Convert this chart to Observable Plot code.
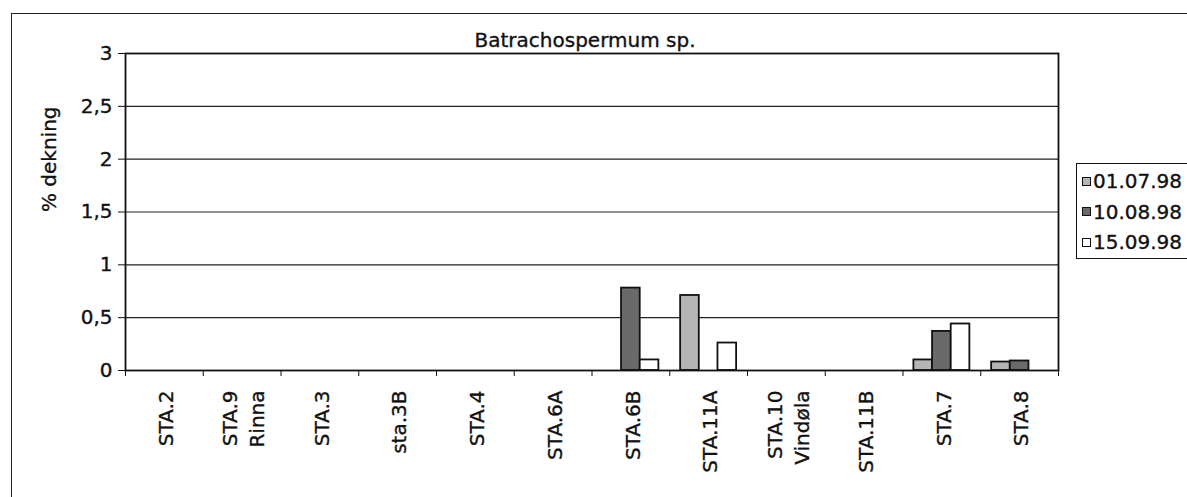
<!DOCTYPE html>
<html>
<head>
<meta charset="utf-8">
<script src="https://cdn.jsdelivr.net/npm/d3@7"></script>
<script src="https://cdn.jsdelivr.net/npm/@observablehq/plot@0.6"></script>
<style>
  html, body { margin: 0; padding: 0; background: #fff; }
  #wrap { position: relative; width: 1187px; height: 497px; overflow: hidden; font-family: "DejaVu Sans", sans-serif; }
  #outer { position: absolute; left: 11px; top: 13px; width: 1300px; height: 700px; border-left: 1.5px solid #222; border-top: 1.5px solid #222; pointer-events: none; }
  #legend { position: absolute; left: 1076px; top: 163px; width: 160px; height: 94px; border: 1.6px solid #111; background: #fff; }
  .row { position: absolute; left: 5px; height: 24px; display: flex; align-items: center; font-size: 20px; color: #111; -webkit-text-stroke: 0.35px #111; }
  .sw { width: 7px; height: 7px; border: 1.8px solid #111; margin-right: 2px; }
</style>
</head>
<body>
<div id="wrap"></div>
<script>
const stations = ["STA.2", "STA.9\nRinna", "STA.3", "sta.3B", "STA.4", "STA.6A", "STA.6B", "STA.11A", "STA.10\nVindøla", "STA.11B", "STA.7", "STA.8"];
const dates = ["01.07.98", "10.08.98", "15.09.98"];
const v0107 = [0, 0, 0, 0, 0, 0, 0, 0.71, 0, 0, 0.10, 0.08];
const v1008 = [0, 0, 0, 0, 0, 0, 0.78, 0, 0, 0, 0.37, 0.09];
const v1509 = [0, 0, 0, 0, 0, 0, 0.10, 0.26, 0, 0, 0.44, 0];
const yTicks = [0, 0.5, 1, 1.5, 2, 2.5, 3];
const title = "Batrachospermum sp.";
const yLabel = "% dekning";
const fills = ["#b5b5b5", "#6a6a6a", "#ffffff"];

const series = [v0107, v1008, v1509];
const rows = [];
stations.forEach((s, i) => series.forEach((vals, j) => {
  if (vals[i] > 0) rows.push({i, j, date: dates[j], value: vals[i]});
}));
const idx = stations.map((s, i) => i);
const bounds = stations.map((s, i) => i - 0.5).concat([stations.length - 0.5]);
const groupW = 0.72, barW = groupW / dates.length;
const ink = {fill: "#111", stroke: "#111", strokeWidth: 0.35, fontSize: 20};
const fmt = d => String(d).replace(".", ",");

const plot = Plot.plot({
  width: 1187,
  height: 497,
  marginLeft: 125,
  marginRight: 129,
  marginTop: 53,
  marginBottom: 127,
  style: {fontFamily: "DejaVu Sans, sans-serif", fontSize: "20px", color: "#111", background: "transparent"},
  x: {type: "linear", domain: [-0.5, stations.length - 0.5], label: null},
  y: {domain: [0, 3], label: null},
  color: {domain: dates, range: fills},
  marks: [
    Plot.ruleY(yTicks.filter(v => v > 0 && v < 3), {stroke: "#222", strokeWidth: 1.1}),
    Plot.rectY(rows, {
      x1: d => d.i - groupW / 2 + d.j * barW,
      x2: d => d.i - groupW / 2 + (d.j + 1) * barW,
      y1: 0, y2: "value",
      fill: "date", stroke: "#111", strokeWidth: 1.8
    }),
    Plot.frame({stroke: "#111", strokeWidth: 1.8}),
    Plot.axisY({ticks: yTicks, tickSize: 7, tickFormat: () => "", label: null, stroke: "#111"}),
    Plot.text(yTicks, {x: -0.5, y: d => d, text: fmt, textAnchor: "end", dx: -13, ...ink}),
    Plot.axisX({ticks: bounds, tickSize: 6, tickFormat: () => "", label: null, stroke: "#111"}),
    Plot.text(idx, {x: d => d, text: d => stations[d], frameAnchor: "bottom", dy: 20,
      rotate: -90, textAnchor: "end", lineAnchor: "middle", lineHeight: 1.35, ...ink}),
    Plot.text([yLabel], {frameAnchor: "left", dx: -76, rotate: -90, ...ink}),
    Plot.text([title], {frameAnchor: "top", dy: -21, dx: -7, ...ink})
  ]
});

const wrap = document.getElementById("wrap");
wrap.appendChild(plot);
const outer = document.createElement("div");
outer.id = "outer";
wrap.appendChild(outer);
const legend = document.createElement("div");
legend.id = "legend";
dates.forEach((d, j) => {
  const row = document.createElement("div");
  row.className = "row";
  row.style.top = (5 + j * 30.5) + "px";
  const sw = document.createElement("span");
  sw.className = "sw";
  sw.style.background = fills[j];
  row.appendChild(sw);
  row.appendChild(document.createTextNode(d));
  legend.appendChild(row);
});
wrap.appendChild(legend);
</script>
</body>
</html>
